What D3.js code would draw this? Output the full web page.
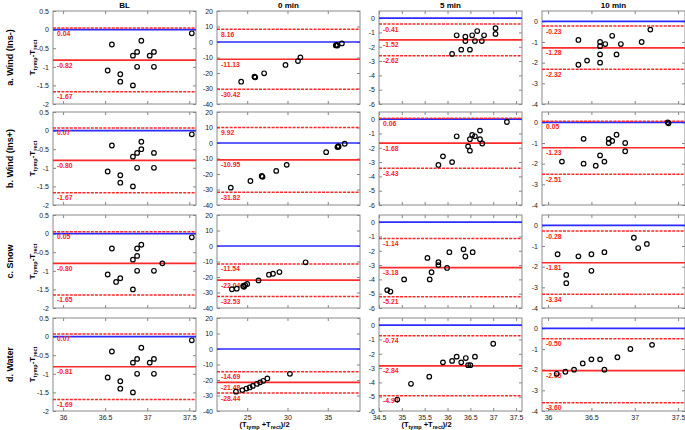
<!DOCTYPE html>
<html><head><meta charset="utf-8">
<script src="https://cdn.jsdelivr.net/npm/d3@7"></script>
<style>body{margin:0;background:#fff} svg{display:block;font-family:"Liberation Sans",Arial,sans-serif}</style>
</head><body><svg id="c" width="685" height="430"></svg>
<script>
const columns = ["BL", "0 min", "5 min", "10 min"];
const rowLabels = ["a. Wind (Ins-)", "b. Wind (Ins+)", "c. Snow", "d. Water"];
const xDomains = [[35.88, 37.58], [21.25, 39], [34.5, 37.63], [35.93, 37.58]];
const yDomains = [[-2, 0.5], [-40, 20], [-6, 0.5], [-4, 0.5]];
const xTicks = [[36, 36.5, 37, 37.5], [25, 30, 35], [34.5, 35, 35.5, 36, 36.5, 37, 37.5], [36, 36.5, 37, 37.5]];
const yTicks = [[0.5, 0, -0.5, -1, -1.5, -2], [20, 10, 0, -10, -20, -30, -40], [0, -1, -2, -3, -4, -5, -6], [0, -1, -2, -3, -4]];
const upperLoA = [[0.04, 8.16, -0.41, -0.23], [0.07, 9.92, 0.06, 0.05], [0.05, -11.54, -1.14, -0.28], [0.07, -14.69, -0.74, -0.50]];
const meanBias = [[-0.82, -11.13, -1.52, -1.28], [-0.80, -10.95, -1.68, -1.23], [-0.80, -22.04, -3.18, -1.81], [-0.81, -21.48, -2.84, -2.05]];
const lowerLoA = [[-1.67, -30.42, -2.62, -2.32], [-1.67, -31.82, -3.43, -2.51], [-1.65, -32.53, -5.21, -3.34], [-1.69, -28.44, -4.94, -3.60]];

const ptsA_BL = [[36.53,-1.1],[36.58,-0.4],[36.68,-1.2],[36.68,-1.4],[36.83,-0.7],[36.83,-1.5],[36.88,-0.6],[36.88,-1.0],[36.93,-0.3],[37.03,-0.7],[37.08,-0.6],[37.08,-1.0],[37.53,-0.1]];
const ptsA_0 = [[24.25,-25.6],[25.9,-22.4],[26.0,-22.8],[27.1,-20.2],[29.75,-14.8],[31.3,-12.3],[31.6,-9.9],[36.0,-2.2],[36.1,-1.8],[36.2,-2.3],[36.75,-0.9]];
const ptsA_5 = [[36.1,-2.5],[36.2,-1.2],[36.3,-2.2],[36.39,-1.3],[36.39,-1.6],[36.49,-2.2],[36.54,-1.2],[36.6,-1.6],[36.65,-0.9],[36.75,-1.6],[36.8,-1.2],[37.05,-0.7],[37.05,-1.1]];
const ptsA_10 = [[36.35,-0.9],[36.35,-2.1],[36.45,-1.9],[36.6,-1.0],[36.6,-1.6],[36.6,-2.0],[36.6,-1.2],[36.66,-1.1],[36.74,-0.7],[36.79,-1.6],[36.84,-1.1],[37.08,-1.0],[37.18,-0.4]];

const ptsB_BL = [[36.53,-1.1],[36.58,-0.4],[36.68,-1.2],[36.68,-1.4],[36.83,-0.7],[36.83,-1.5],[36.88,-0.6],[36.88,-1.0],[36.93,-0.3],[36.93,-0.5],[37.08,-0.6],[37.08,-1.0],[37.53,-0.1]];
const ptsB_0 = [[22.96,-28.8],[25.4,-24.5],[26.8,-21.3],[26.9,-21.8],[28.6,-18.0],[29.9,-14.1],[34.8,-5.9],[36.2,-2.6],[36.3,-2.0],[36.35,-2.4],[37.1,-0.5]];
const ptsB_5 = [[35.8,-3.2],[35.9,-2.6],[36.1,-3.0],[36.2,-1.2],[36.45,-1.9],[36.49,-1.4],[36.49,-2.2],[36.54,-1.1],[36.6,-1.2],[36.71,-0.8],[36.71,-1.4],[36.76,-1.7],[37.3,-0.2]];
const ptsB_10 = [[36.16,-1.9],[36.41,-0.8],[36.41,-2.0],[36.55,-2.1],[36.6,-1.6],[36.65,-1.9],[36.7,-0.8],[36.7,-1.0],[36.74,-0.9],[36.79,-0.6],[36.89,-1.0],[36.89,-1.4],[37.38,0.0],[37.39,-0.05]];

const ptsC_BL = [[36.53,-1.1],[36.58,-0.4],[36.63,-1.3],[36.68,-1.2],[36.83,-0.7],[36.83,-1.5],[36.88,-0.4],[36.88,-0.6],[36.88,-1.0],[36.93,-0.3],[37.08,-1.0],[37.18,-0.8],[37.53,-0.1]];
const ptsC_0 = [[23.1,-27.9],[23.7,-27.5],[24.5,-25.8],[24.6,-26.3],[24.75,-25.2],[25.0,-24.5],[26.4,-22.2],[27.7,-18.5],[28.2,-17.9],[29.0,-16.8],[32.25,-10.5]];
const ptsC_5 = [[34.68,-4.75],[34.75,-4.85],[35.05,-4.0],[35.56,-2.5],[35.61,-4.0],[35.65,-3.5],[35.8,-2.8],[35.8,-3.0],[35.99,-3.2],[36.04,-2.1],[36.35,-1.9],[36.39,-2.4],[36.55,-2.1]];
const ptsC_10 = [[36.11,-1.4],[36.21,-2.4],[36.21,-2.8],[36.35,-1.5],[36.5,-1.4],[36.5,-2.2],[36.65,-1.3],[36.99,-0.6],[37.04,-1.1],[37.14,-0.9]];

const ptsD_BL = [[36.53,-1.1],[36.58,-0.4],[36.68,-1.2],[36.68,-1.4],[36.83,-0.7],[36.83,-1.5],[36.88,-0.6],[36.88,-1.0],[36.93,-0.3],[37.03,-0.7],[37.08,-0.6],[37.08,-1.0],[37.53,-0.1]];
const ptsD_0 = [[23.6,-27.5],[24.4,-26.5],[24.9,-25.5],[25.3,-24.8],[25.7,-23.8],[26.2,-22.5],[26.6,-21.5],[27.0,-20.5],[27.5,-19.0],[30.3,-16.0]];
const ptsD_5 = [[34.9,-5.2],[35.2,-4.1],[35.6,-3.6],[35.9,-2.6],[36.1,-2.5],[36.2,-2.2],[36.3,-2.6],[36.4,-2.3],[36.45,-2.8],[36.5,-2.8],[36.6,-2.2],[37.0,-1.3]];
const ptsD_10 = [[36.1,-2.2],[36.2,-2.1],[36.3,-2.0],[36.4,-1.7],[36.5,-1.5],[36.6,-1.5],[36.65,-2.0],[36.8,-1.4],[36.95,-1.0],[37.2,-0.8]];

const points = [[ptsA_BL, ptsA_0, ptsA_5, ptsA_10],[ptsB_BL, ptsB_0, ptsB_5, ptsB_10],[ptsC_BL, ptsC_0, ptsC_5, ptsC_10],[ptsD_BL, ptsD_0, ptsD_5, ptsD_10]];

// layout
const colLeft = [53, 217, 379, 542], colW = 143;
const rowTop = [11, 112, 215, 318], rowH = 93;
const svg = d3.select("#c");
const fmtTick = v => String(v);

for (let r = 0; r < 4; r++) {
  for (let c = 0; c < 4; c++) {
    const x = d3.scaleLinear().domain(xDomains[c]).range([colLeft[c], colLeft[c] + colW]);
    const y = d3.scaleLinear().domain(yDomains[c]).range([rowTop[r] + rowH, rowTop[r]]);
    const g = svg.append("g");
    const ya = g.append("g").attr("transform", `translate(${colLeft[c]},0)`)
      .call(d3.axisLeft(y).tickValues(yTicks[c]).tickSize(-3).tickPadding(4).tickFormat(fmtTick));
    const yr = g.append("g").attr("transform", `translate(${colLeft[c] + colW},0)`)
      .call(d3.axisRight(y).tickValues(yTicks[c]).tickSize(-3).tickFormat(""));
    const xa = g.append("g").attr("transform", `translate(0,${rowTop[r] + rowH})`)
      .call(d3.axisBottom(x).tickValues(xTicks[c]).tickSize(-3).tickPadding(4).tickFormat(r === 3 ? fmtTick : ""));
    const xt = g.append("g").attr("transform", `translate(0,${rowTop[r]})`)
      .call(d3.axisTop(x).tickValues(xTicks[c]).tickSize(-3).tickFormat(""));
    [ya, yr, xa, xt].forEach(a => {
      a.select(".domain").remove();
      a.selectAll(".tick line").attr("stroke", "#666").attr("stroke-width", 0.8);
      a.selectAll("text").attr("font-size", 7).attr("fill", "#222");
    });
    g.append("rect").attr("x", colLeft[c]).attr("y", rowTop[r]).attr("width", colW).attr("height", rowH)
      .attr("fill", "none").attr("stroke", "#8a8a8a").attr("stroke-width", 1);
    g.append("line").attr("x1", colLeft[c]).attr("x2", colLeft[c] + colW)
      .attr("y1", y(0)).attr("y2", y(0)).attr("stroke", "#2b2bff").attr("stroke-width", 1.7);
    const lines = [[upperLoA[r][c], true], [meanBias[r][c], false], [lowerLoA[r][c], true]];
    lines.forEach(([v, dashed]) => {
      g.append("line").attr("x1", colLeft[c]).attr("x2", colLeft[c] + colW)
        .attr("y1", y(v)).attr("y2", y(v)).attr("stroke", "#ff2a2a")
        .attr("stroke-width", dashed ? 1.5 : 1.7)
        .attr("stroke-dasharray", dashed ? "3,1.2" : null);
      g.append("text").attr("x", colLeft[c] + 4).attr("y", y(v) + 7.5)
        .attr("font-size", 6.8).attr("font-weight", "bold").attr("fill", "#ff2020")
        .text(v.toFixed(2));
    });
    g.selectAll("circle.p").data(points[r][c]).enter().append("circle")
      .attr("cx", d => x(d[0])).attr("cy", d => y(d[1])).attr("r", 2.3)
      .attr("fill", "none").attr("stroke", "#000").attr("stroke-width", 1.2);
    if (r === 0) {
      svg.append("text").attr("x", colLeft[c] + colW / 2).attr("y", 8).attr("text-anchor", "middle")
        .attr("font-size", 8).attr("font-weight", "bold").text(columns[c]);
    }
    if (r === 3 && (c === 1 || c === 2)) {
      const t = svg.append("text").attr("x", colLeft[c] + colW / 2 - 24).attr("y", 427).attr("text-anchor", "middle")
        .attr("font-size", 7.5).attr("font-weight", "bold");
      t.append("tspan").text("(T");
      t.append("tspan").attr("font-size", 5.5).attr("dy", 2).text("tymp");
      t.append("tspan").attr("dy", -2).text(" +T");
      t.append("tspan").attr("font-size", 5.5).attr("dy", 2).text("rect");
      t.append("tspan").attr("dy", -2).text(")/2");
    }
  }
  const cy = rowTop[r] + rowH / 2;
  svg.append("text").attr("transform", `translate(13,${cy}) rotate(-90)`).attr("text-anchor", "middle")
    .attr("font-size", 9).attr("font-weight", "bold").text(rowLabels[r]);
  const t = svg.append("text").attr("transform", `translate(35,${cy}) rotate(-90)`).attr("text-anchor", "middle")
    .attr("font-size", 8).attr("font-weight", "bold");
  t.append("tspan").text("T");
  t.append("tspan").attr("font-size", 5.5).attr("dy", 2).text("tymp");
  t.append("tspan").attr("dy", -2).text("-T");
  t.append("tspan").attr("font-size", 5.5).attr("dy", 2).text("rect");
}
</script></body></html>
